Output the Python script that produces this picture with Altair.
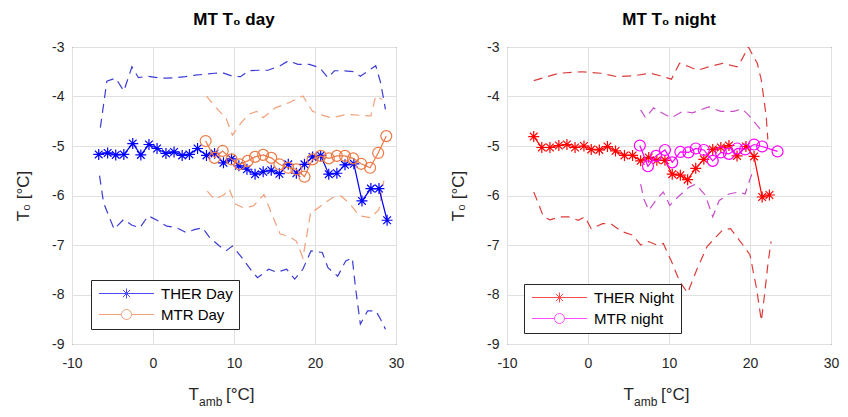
import altair as alt
import pandas as pd

FONT = "Liberation Sans"
TXT = "#262626"

# ---------------- data: day panel ----------------
ther_day_x = [-6.7, -5.6, -4.6, -3.6, -2.5, -1.5, -0.5, 0.5, 1.6, 2.6, 3.6, 4.5, 5.5, 6.6, 7.6, 8.7, 9.7, 10.6,
              11.6, 12.6, 13.6, 14.6, 15.6, 16.7, 17.7, 18.7, 19.7, 20.7, 21.7, 22.7, 23.7, 24.8, 25.8, 26.9, 27.9, 28.9]
ther_day_y = [-5.17, -5.14, -5.18, -5.17, -4.95, -5.18, -4.97, -5.05, -5.15, -5.12, -5.19, -5.17, -5.05, -5.19,
              -5.15, -5.34, -5.26, -5.40, -5.47, -5.57, -5.52, -5.49, -5.56, -5.37, -5.55, -5.37, -5.22, -5.19,
              -5.57, -5.55, -5.38, -5.36, -6.11, -5.86, -5.86, -6.50]

mtr_day_x = [6.5, 7.6, 8.6, 9.7, 10.7, 11.7, 12.6, 13.6, 14.6, 15.6, 16.7, 17.7, 18.7, 19.7, 20.7, 21.7, 22.7,
             23.7, 24.7, 25.7, 26.8, 27.8, 28.8]
mtr_day_y = [-4.90, -5.24, -5.10, -5.27, -5.37, -5.30, -5.22, -5.18, -5.24, -5.37, -5.44, -5.47, -5.62, -5.27,
             -5.20, -5.25, -5.20, -5.20, -5.25, -5.36, -5.44, -5.14, -4.80]

ther_day_up_x = [-6.5, -5.7, -4.6, -3.6, -2.6, -1.8, -0.7, 0.5, 1.6, 2.8, 4.0, 5.2, 6.4, 7.6, 8.6, 9.8, 10.8, 11.8,
                 13.0, 14.2, 15.7, 16.7, 17.9, 19.3, 20.6, 21.6, 22.4, 23.6, 24.8, 25.6, 26.4, 27.5, 28.1, 28.7]
ther_day_up_y = [-4.63, -3.69, -3.63, -3.89, -3.40, -3.62, -3.59, -3.62, -3.63, -3.62, -3.60, -3.57, -3.55, -3.53,
                 -3.52, -3.59, -3.60, -3.48, -3.47, -3.47, -3.38, -3.28, -3.35, -3.35, -3.42, -3.62, -3.48, -3.48,
                 -3.50, -3.59, -3.50, -3.38, -3.72, -4.26]

ther_day_lo_x = [-6.6, -6.1, -4.8, -3.6, -2.6, -1.6, -0.6, 0.5, 1.7, 2.9, 4.1, 5.1, 6.1, 7.0, 8.2, 9.0, 9.8, 11.0,
                 12.2, 12.9, 14.3, 15.3, 16.5, 17.5, 18.5, 19.5, 20.9, 21.6, 22.8, 23.8, 24.6, 25.0, 25.6, 26.5,
                 27.5, 28.1, 28.7]
ther_day_lo_y = [-5.60, -6.15, -6.68, -6.48, -6.60, -6.65, -6.41, -6.50, -6.62, -6.65, -6.75, -6.69, -6.65, -6.85,
                 -7.02, -7.12, -7.02, -7.26, -7.53, -7.66, -7.49, -7.55, -7.49, -7.69, -7.49, -7.12, -7.15, -7.46,
                 -7.63, -7.32, -7.26, -7.86, -8.60, -8.33, -8.33, -8.50, -8.70]

mtr_day_up_x = [6.6, 7.8, 9.0, 9.8, 10.8, 11.8, 12.8, 13.6, 15.1, 16.7, 18.5, 19.7, 21.0, 22.0, 24.0, 25.6, 26.9,
                27.5, 28.3]
mtr_day_up_y = [-3.99, -4.23, -4.43, -4.78, -4.55, -4.36, -4.30, -4.43, -4.23, -4.13, -3.99, -4.30, -4.38, -4.43,
                -4.36, -4.38, -4.39, -3.99, -4.06]

mtr_day_lo_x = [6.7, 7.6, 8.8, 9.4, 10.2, 11.2, 12.4, 13.7, 14.7, 15.7, 16.7, 17.7, 18.5, 19.5, 20.0, 21.2, 22.2,
                23.2, 24.2, 25.5, 26.9, 27.9, 28.5]
mtr_day_lo_y = [-5.91, -6.08, -5.98, -5.87, -6.18, -6.25, -6.21, -5.98, -6.39, -6.78, -6.82, -6.92, -7.26, -6.31,
                -6.30, -6.15, -6.04, -6.01, -6.15, -6.41, -6.45, -6.28, -5.70]

# ---------------- data: night panel ----------------
ther_night_x = [-6.7, -5.7, -4.7, -3.6, -2.6, -1.6, -0.5, 0.4, 1.4, 2.4, 3.4, 4.5, 5.5, 6.5, 7.5, 8.5, 9.5, 10.4,
                11.4, 12.3, 13.3, 14.3, 15.4, 16.4, 17.4, 18.4, 19.5, 20.5, 21.5, 22.4]
ther_night_y = [-4.81, -5.03, -5.03, -4.99, -4.97, -5.03, -5.00, -5.07, -5.08, -5.01, -5.10, -5.19, -5.19, -5.30,
                -5.23, -5.29, -5.29, -5.57, -5.59, -5.68, -5.45, -5.27, -5.07, -5.03, -4.99, -5.20, -5.01, -5.21,
                -6.03, -5.99]

mtr_night_x = [6.4, 7.4, 8.4, 9.5, 10.4, 11.4, 12.4, 13.3, 14.3, 15.4, 16.4, 17.4, 18.4, 19.4, 20.5, 21.5, 23.4]
mtr_night_y = [-4.99, -5.41, -5.20, -5.08, -5.33, -5.12, -5.13, -5.05, -5.08, -5.30, -5.13, -5.16, -5.05, -5.07,
               -4.97, -5.01, -5.11]

ther_night_up_x = [-6.7, -3.6, -0.8, 1.6, 3.6, 5.7, 7.7, 8.9, 10.3, 11.3, 12.5, 13.5, 14.9, 16.6, 18.4, 19.0, 19.8,
                   20.9, 21.4, 22.0, 22.2]
ther_night_up_y = [-3.68, -3.53, -3.50, -3.53, -3.60, -3.58, -3.53, -3.58, -3.65, -3.33, -3.40, -3.47, -3.40, -3.33,
                   -3.40, -3.25, -3.00, -3.33, -3.67, -4.40, -4.87]

ther_night_lo_x = [-6.7, -6.1, -5.5, -4.7, -3.4, -2.4, -1.2, -0.4, 0.4, 1.8, 2.8, 4.2, 5.5, 6.5, 7.5, 8.5, 9.3,
                   10.3, 11.3, 12.3, 13.5, 14.7, 16.6, 17.6, 19.0, 20.0, 20.8, 21.4, 21.8, 22.2, 22.6]
ther_night_lo_y = [-5.93, -6.17, -6.43, -6.49, -6.43, -6.43, -6.50, -6.43, -6.67, -6.57, -6.57, -6.73, -6.80, -7.00,
                   -6.93, -7.00, -6.97, -7.33, -7.73, -7.97, -7.47, -7.03, -6.70, -6.67, -6.97, -7.20, -7.87, -8.53,
                   -8.00, -7.40, -6.93]

mtr_night_up_x = [6.5, 7.1, 8.1, 9.1, 10.3, 11.7, 12.9, 14.9, 16.4, 18.0, 19.0, 19.8, 20.8, 21.6]
mtr_night_up_y = [-4.27, -4.43, -4.23, -4.33, -4.43, -4.30, -4.33, -4.21, -4.30, -4.30, -4.25, -4.37, -4.57, -4.72]

mtr_night_lo_x = [6.5, 6.9, 7.5, 8.5, 9.3, 10.1, 11.1, 12.5, 13.3, 14.5, 15.4, 16.2, 17.4, 18.6, 19.4, 20.0, 20.5]
mtr_night_lo_y = [-5.77, -6.07, -6.30, -6.07, -5.93, -6.20, -6.03, -5.83, -5.77, -6.00, -6.43, -6.10, -5.97, -5.93,
                  -5.97, -5.67, -5.45]

x_ticks = [-10, 0, 10, 20, 30]
y_ticks = [-9, -8, -7, -6, -5, -4, -3]

# marker paths
STAR = "M0,-1L0,1M-1,0L1,0M-0.7,-0.7L0.7,0.7M-0.7,0.7L0.7,-0.7"
LEG_STAR = "M-5.5,0L5.5,0M0,-1L0,1M-0.72,-0.72L0.72,0.72M-0.72,0.72L0.72,-0.72"
LEG_CIRC = "M-5.5,0L-1,0M1,0L5.5,0M-1,0A1,1 0 1,0 1,0A1,1 0 1,0 -1,0"

W, H = 324, 297
HYPHEN = "replace(datum.label, '\u2212', '-')"

X = alt.X("x:Q", scale=alt.Scale(domain=[-10, 30], nice=False, zero=False),
          axis=alt.Axis(values=x_ticks, title=None, grid=True, labelPadding=12, labelFlush=False,
                        labelExpr=HYPHEN))
Y = alt.Y("y:Q", scale=alt.Scale(domain=[-9, -3], nice=False, zero=False),
          axis=alt.Axis(values=y_ticks, title="T₀ [°C]", grid=True, labelPadding=8, titlePadding=19,
                        labelFlush=False, labelExpr=HYPHEN))


def dashed(xs, ys, color):
    df = pd.DataFrame({"x": xs, "y": ys})
    return alt.Chart(df).mark_line(color=color, strokeWidth=1.2, strokeDash=[9, 6], clip=True).encode(x=X, y=Y)


def series(xs, ys, color, shape, size):
    df = pd.DataFrame({"x": xs, "y": ys})
    line = alt.Chart(df).mark_line(color=color, strokeWidth=1.2).encode(x=X, y=Y)
    pts = alt.Chart(df).mark_point(shape=shape, size=size, filled=False, strokeWidth=1.2, color=color,
                                   opacity=1).encode(x=X, y=Y)
    return [line, pts]


def legend_layer(names, colors, lx, ly):
    df = pd.DataFrame({"name": names})
    leg = alt.Legend(title=None, orient="none", legendX=lx, legendY=ly, strokeColor=TXT, fillColor="white",
                     padding=6, labelFont=FONT, labelFontSize=15, labelColor="black", symbolSize=100,
                     symbolStrokeWidth=1, symbolOffset=22, labelOffset=27, rowPadding=5, cornerRadius=0)
    return alt.Chart(df).transform_filter("false").mark_point(filled=False, strokeWidth=1).encode(
        color=alt.Color("name:N", scale=alt.Scale(domain=names, range=colors), legend=leg),
        shape=alt.Shape("name:N", scale=alt.Scale(domain=names, range=[LEG_STAR, LEG_CIRC]), legend=leg),
    )


def xtitle():
    d = pd.DataFrame({"t": [0]})
    base = alt.Chart(d)
    t1 = base.mark_text(text="T", font=FONT, fontSize=17, color=TXT, align="right", baseline="alphabetic").encode(
        x=alt.value(W / 2 - 35), y=alt.value(H + 56))
    t2 = base.mark_text(text="amb", font=FONT, fontSize=12, color=TXT, align="left", baseline="alphabetic").encode(
        x=alt.value(W / 2 - 35), y=alt.value(H + 62))
    t3 = base.mark_text(text="[°C]", font=FONT, fontSize=17, color=TXT, align="left", baseline="alphabetic").encode(
        x=alt.value(W / 2 - 8), y=alt.value(H + 56))
    return [t1, t2, t3]


left_layers = [
    dashed(ther_day_up_x, ther_day_up_y, "#3c3cd2"),
    dashed(ther_day_lo_x, ther_day_lo_y, "#3c3cd2"),
    dashed(mtr_day_up_x, mtr_day_up_y, "#f2a07a"),
    dashed(mtr_day_lo_x, mtr_day_lo_y, "#f2a07a"),
    *series(ther_day_x, ther_day_y, "#0000ff", STAR, 120),
    *series(mtr_day_x, mtr_day_y, "#ec7a45", "circle", 120),
    legend_layer(["THER Day", "MTR Day"], ["#0000ff", "#ec7a45"], 19, 233),
    *xtitle(),
]

right_layers = [
    dashed(ther_night_up_x, ther_night_up_y, "#dc3c3c"),
    dashed(ther_night_lo_x, ther_night_lo_y, "#dc3c3c"),
    dashed(mtr_night_up_x, mtr_night_up_y, "#c84ec8"),
    dashed(mtr_night_lo_x, mtr_night_lo_y, "#c84ec8"),
    *series(ther_night_x, ther_night_y, "#ff0000", STAR, 120),
    *series(mtr_night_x, mtr_night_y, "#ff00ff", "circle", 120),
    legend_layer(["THER Night", "MTR  night"], ["#ff0000", "#ff00ff"], 17, 237),
    *xtitle(),
]

title_props = dict(font=FONT, fontSize=17, fontWeight="bold", color="black", offset=11)

left = alt.layer(*left_layers).properties(width=W, height=H,
                                          title=alt.TitleParams("MT T₀ day", **title_props))
right = alt.layer(*right_layers).properties(width=W, height=H,
                                            title=alt.TitleParams("MT T₀ night", **title_props))

chart = alt.hconcat(left, right, spacing=44).resolve_scale(
    color="independent", shape="independent").resolve_legend(
    color="independent", shape="independent").properties(
    padding={"left": 6, "top": 2, "right": 0, "bottom": 0},
    background="white",
).configure_view(stroke=TXT, strokeWidth=1).configure_axis(
    domain=False, ticks=False, gridColor="#e0e0e0", gridWidth=1, labelFont=FONT, labelFontSize=14,
    labelColor=TXT, titleFont=FONT, titleFontSize=17, titleFontWeight="normal", titleColor=TXT
)

chart.save("out.html", embed_options={"renderer": "svg", "actions": False})
